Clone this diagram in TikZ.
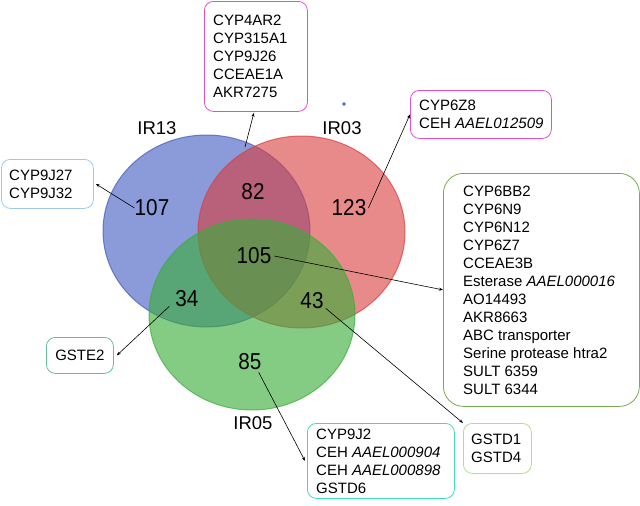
\documentclass[tikz,border=0pt]{standalone}
\usepackage{fontspec}
\setmainfont{Liberation Sans}
\usetikzlibrary{arrows.meta}
\definecolor{vblue}{RGB}{62,88,192}
\definecolor{vred}{RGB}{217,60,60}
\definecolor{vgreen}{RGB}{58,172,58}
\definecolor{pinkb}{RGB}{228,80,196}
\definecolor{lblueb}{RGB}{160,200,235}
\definecolor{tealb}{RGB}{100,190,150}
\definecolor{oliveb}{RGB}{120,170,80}
\definecolor{turqb}{RGB}{60,220,190}
\definecolor{lgreenb}{RGB}{180,220,150}
\newcommand\sqz[1]{\scalebox{0.9}[1]{#1}}
\begin{document}
\begin{tikzpicture}[x=1pt,y=-1pt,
  num/.style={font=\fontsize{23}{26}\selectfont, inner sep=0pt},
  setlab/.style={font=\fontsize{18.5}{22}\selectfont, inner sep=0pt},
  genebox/.style={draw=#1, rounded corners=9pt, line width=0.8pt, anchor=north west, inner sep=0pt},
  btext/.style={font=\fontsize{15}{18}\selectfont, align=left, inner sep=0pt, anchor=west},
  conn/.style={draw=black, line width=0.6pt, -{Stealth[length=4pt,width=3pt]}}
]
\useasboundingbox (0,0) rectangle (640,506);
\fill[white] (0,0) rectangle (640,506);

% Venn sets
\path[fill=vblue, fill opacity=0.6, draw=vblue, draw opacity=0.7, line width=1pt]
  (206.5,231) ellipse [x radius=103.5, y radius=96];
\path[fill=vred, fill opacity=0.6, draw=vred, draw opacity=0.7, line width=1pt]
  (301.5,232) ellipse [x radius=103.5, y radius=96];
\path[fill=vgreen, fill opacity=0.62, draw=vgreen, draw opacity=0.7, line width=1pt]
  (252,314.5) ellipse [x radius=103, y radius=95.5];

% set labels
\node[setlab] (l13) at (157,128) {IR13};
\node[setlab] (l03) at (342,128) {IR03};
\node[setlab] (l05) at (253,423) {IR05};

% counts
\node[num] (n107) at (152,208) {\sqz{107}};
\node[num] (n82) at (253,192) {\sqz{82}};
\node[num] (n123) at (349,208) {\sqz{123}};
\node[num] (n105) at (254,256) {\sqz{105}};
\node[num] (n34) at (187,299) {\sqz{34}};
\node[num] (n43) at (312,301) {\sqz{43}};
\node[num] (n85) at (250,362) {\sqz{85}};

% small dot
\fill[vblue!80!gray] (344,104) circle [radius=1.8];

% gene boxes
\node[genebox=pinkb, minimum width=103pt, minimum height=110pt] (b1) at (204,1) {};
\node[btext] (t1) at ([xshift=9pt]b1.west) {CYP4AR2\\CYP315A1\\CYP9J26\\CCEAE1A\\AKR7275};

\node[genebox=pinkb, minimum width=141pt, minimum height=48pt] (b2) at (410,90) {};
\node[btext] (t2) at ([xshift=9pt]b2.west) {CYP6Z8\\CEH \textit{AAEL012509}};

\node[genebox=lblueb, minimum width=92pt, minimum height=49pt] (b3) at (1,159) {};
\node[btext] (t3) at ([xshift=8pt]b3.west) {CYP9J27\\CYP9J32};

\node[genebox=oliveb, rounded corners=20pt, minimum width=196pt, minimum height=233pt] (b4) at (443,173) {};
\node[btext] (t4) at ([xshift=20pt]b4.west) {CYP6BB2\\CYP6N9\\CYP6N12\\CYP6Z7\\CCEAE3B\\Esterase \textit{AAEL000016}\\AO14493\\AKR8663\\ABC transporter\\Serine protease htra2\\SULT 6359\\SULT 6344};

\node[genebox=tealb, minimum width=67pt, minimum height=36pt] (b5) at (46,337) {};
\node[btext, anchor=center] (t5) at (b5.center) {GSTE2};

\node[genebox=turqb, minimum width=147pt, minimum height=75pt] (b6) at (307,423) {};
\node[btext] (t6) at ([xshift=9pt]b6.west) {CYP9J2\\CEH \textit{AAEL000904}\\CEH \textit{AAEL000898}\\GSTD6};

\node[genebox=lgreenb, minimum width=68pt, minimum height=50pt] (b7) at (463,423) {};
\node[btext] (t7) at ([xshift=8pt]b7.west) {GSTD1\\GSTD4};

% connectors
\coordinate (s82) at (245,147);
\draw[conn] (n107.west) -- ([xshift=2pt]b3.east);
\draw[conn] (s82) -- ([xshift=-2pt,yshift=-1pt]b1.south);
\draw[conn] ([xshift=2pt]n123.east) -- (b2.west);
\draw[conn] ([xshift=3pt]n105.east) -- (b4.west);
\draw[conn] ([xshift=-6pt,yshift=1pt]n34.south west) -- ([xshift=3pt]b5.east);
\draw[conn] ([xshift=2pt,yshift=1pt]n43.south east) -- (b7.north west);
\draw[conn] ([xshift=-3pt,yshift=-2pt]n85.south east) -- ([xshift=-2pt]b6.west);
\end{tikzpicture}
\end{document}
